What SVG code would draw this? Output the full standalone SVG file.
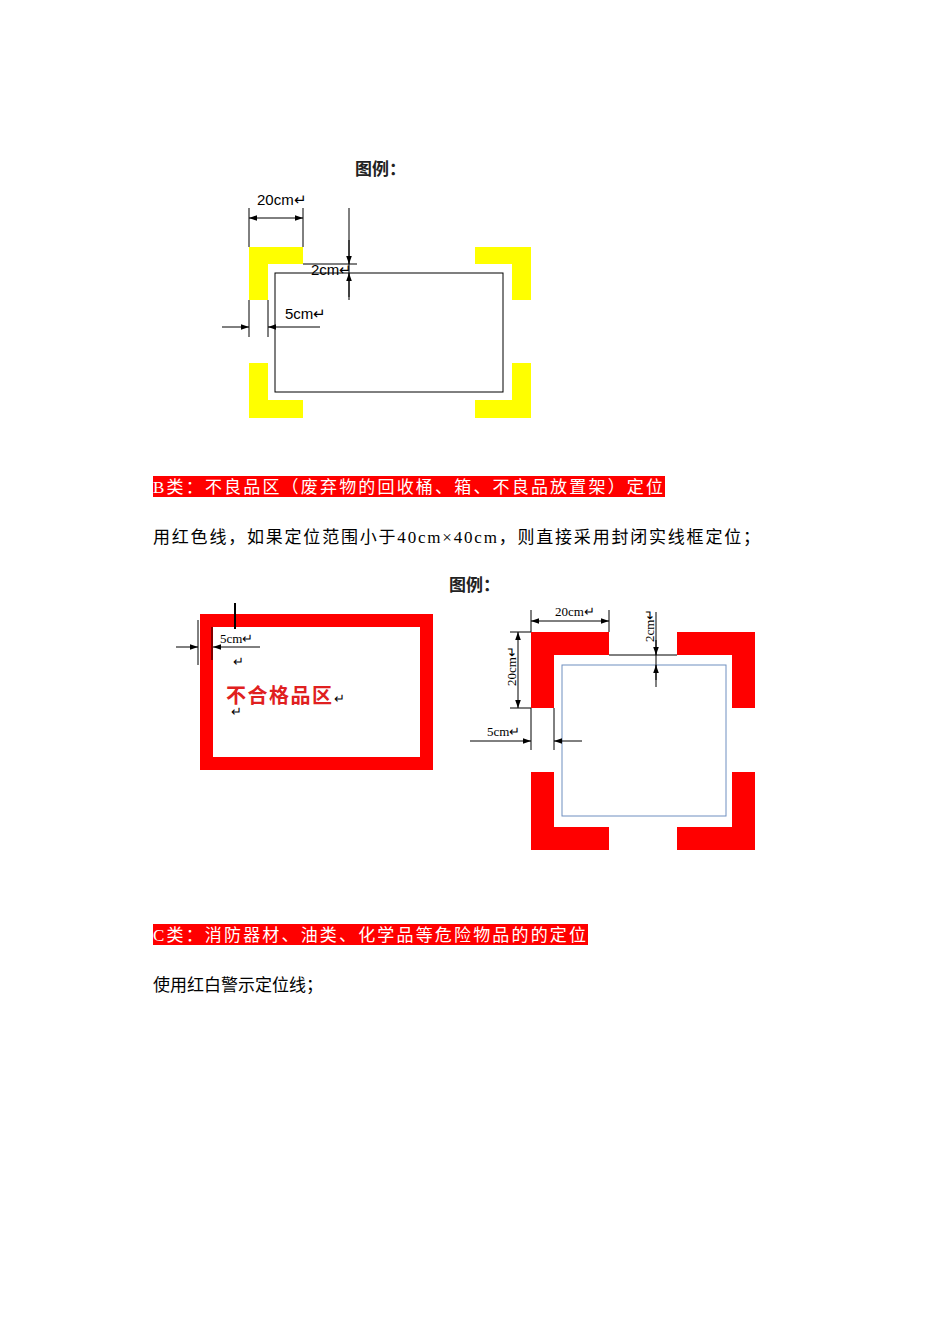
<svg xmlns="http://www.w3.org/2000/svg" width="950" height="1344" viewBox="0 0 950 1344">
<style>
.t{font-family:"Liberation Serif","Noto Sans CJK SC",serif;font-size:17px;fill:#000}
.h{font-family:"Liberation Serif","Noto Sans CJK SC",serif;font-size:17px;fill:#fff}
.s{font-family:"Liberation Sans","Noto Sans CJK SC",sans-serif;font-size:15px;fill:#000}
.m{font-family:"Liberation Serif",serif;font-size:13px;fill:#000}
.b{font-family:"Liberation Sans","Noto Sans CJK SC",sans-serif;font-size:17px;font-weight:bold;fill:#222}
.l{stroke:#000;stroke-width:1;fill:none}
.y{fill:#ffff00}.r{fill:#ff0000}
</style>
<defs><marker id="a" viewBox="0 0 10 10" refX="10" refY="5" markerWidth="8" markerHeight="8" orient="auto-start-reverse"><path d="M0,1.5L10,5L0,8.5z" fill="#000"/></marker></defs>
<rect width="950" height="1344" fill="#fff"/>
<g id="legend1">
<text class="b" x="355" y="175">图例：</text>
<path class="y" d="M249,247H303V264H268V300H249z"/>
<path class="y" d="M475,247H531V300H512V264H475z"/>
<path class="y" d="M249,363H268V400H303V418H249z"/>
<path class="y" d="M512,363H531V418H475V400H512z"/>
<rect class="l" x="275" y="273" width="228" height="119"/>
<text class="s" x="257" y="205">20cm↵</text>
<text class="s" x="311" y="275">2cm↵</text>
<text class="s" x="285" y="319">5cm↵</text>
</g>
<g id="legend2">
<text class="b" x="449" y="591">图例：</text>
<path class="r" fill-rule="evenodd" d="M200,614H433V770H200zM213,627V757H420V627z"/>
<text class="m" x="220" y="643">5cm↵</text>
<text class="m" x="233" y="666" font-size="9">↵</text>
<text x="226" y="703" font-family="Liberation Serif,Noto Sans CJK SC,serif" font-size="20" font-weight="bold" fill="#e02020" textLength="106">不合格品区</text>
<text class="m" x="334" y="703" font-size="10">↵</text>
<text class="m" x="231" y="716" font-size="9">↵</text>
</g>
<g id="legend3">
<path class="r" d="M531,632H609V655H554V708H531z"/>
<path class="r" d="M677,632H755V708H732V655H677z"/>
<path class="r" d="M531,772H554V827H609V850H531z"/>
<path class="r" d="M732,772H755V850H677V827H732z"/>
<rect x="562" y="665" width="164" height="151" fill="#fff" stroke="#6f8fc0" stroke-width="1"/>
<text class="m" x="555" y="616">20cm↵</text>
<text class="m" transform="translate(516,686) rotate(-90)">20cm↵</text>
<text class="m" transform="translate(654,642) rotate(-90)">2cm↵</text>
<text class="m" x="487" y="736">5cm↵</text>
</g>
<g id="connectors">
<path class="l" d="M249,208V247M303,208V247M349,208V300M303,264H357M249,300V337M268,300V337"/>
<line class="l" x1="249" y1="218" x2="303" y2="218" marker-start="url(#a)" marker-end="url(#a)"/>
<line class="l" x1="349" y1="240" x2="349" y2="264" marker-end="url(#a)"/>
<line class="l" x1="349" y1="297" x2="349" y2="273" marker-end="url(#a)"/>
<line class="l" x1="222" y1="327" x2="249" y2="327" marker-end="url(#a)"/>
<line class="l" x1="320" y1="327" x2="268" y2="327" marker-end="url(#a)"/>
<path d="M235,603V629" stroke="#000" stroke-width="2"/>
<path class="l" d="M198,620V665M212,627V660"/>
<line class="l" x1="176" y1="647" x2="198" y2="647" marker-end="url(#a)"/>
<line class="l" x1="260" y1="647" x2="213" y2="647" marker-end="url(#a)"/>
<path class="l" d="M531,610V632M609,610V632M510,632H531M510,708H531M656,612V687M609,655H677M531,708V750M554,708V750"/>
<line class="l" x1="531" y1="621" x2="609" y2="621" marker-start="url(#a)" marker-end="url(#a)"/>
<line class="l" x1="518" y1="632" x2="518" y2="708" marker-start="url(#a)" marker-end="url(#a)"/>
<line class="l" x1="656" y1="640" x2="656" y2="655" marker-end="url(#a)"/>
<line class="l" x1="656" y1="680" x2="656" y2="665" marker-end="url(#a)"/>
<line class="l" x1="470" y1="741" x2="531" y2="741" marker-end="url(#a)"/>
<line class="l" x1="582" y1="741" x2="554" y2="741" marker-end="url(#a)"/>
</g>
<g id="text">
<rect x="153" y="476" width="512" height="21" fill="#ff0000"/>
<text class="h" x="153" y="493" textLength="510">B类：不良品区（废弃物的回收桶、箱、不良品放置架）定位</text>
<text class="t" x="153" y="543" textLength="607">用红色线，如果定位范围小于40cm×40cm，则直接采用封闭实线框定位；</text>
<rect x="153" y="924" width="435" height="21" fill="#ff0000"/>
<text class="h" x="153" y="941" textLength="433">C类：消防器材、油类、化学品等危险物品的的定位</text>
<text class="t" x="153" y="991">使用红白警示定位线；</text>
</g>
</svg>
